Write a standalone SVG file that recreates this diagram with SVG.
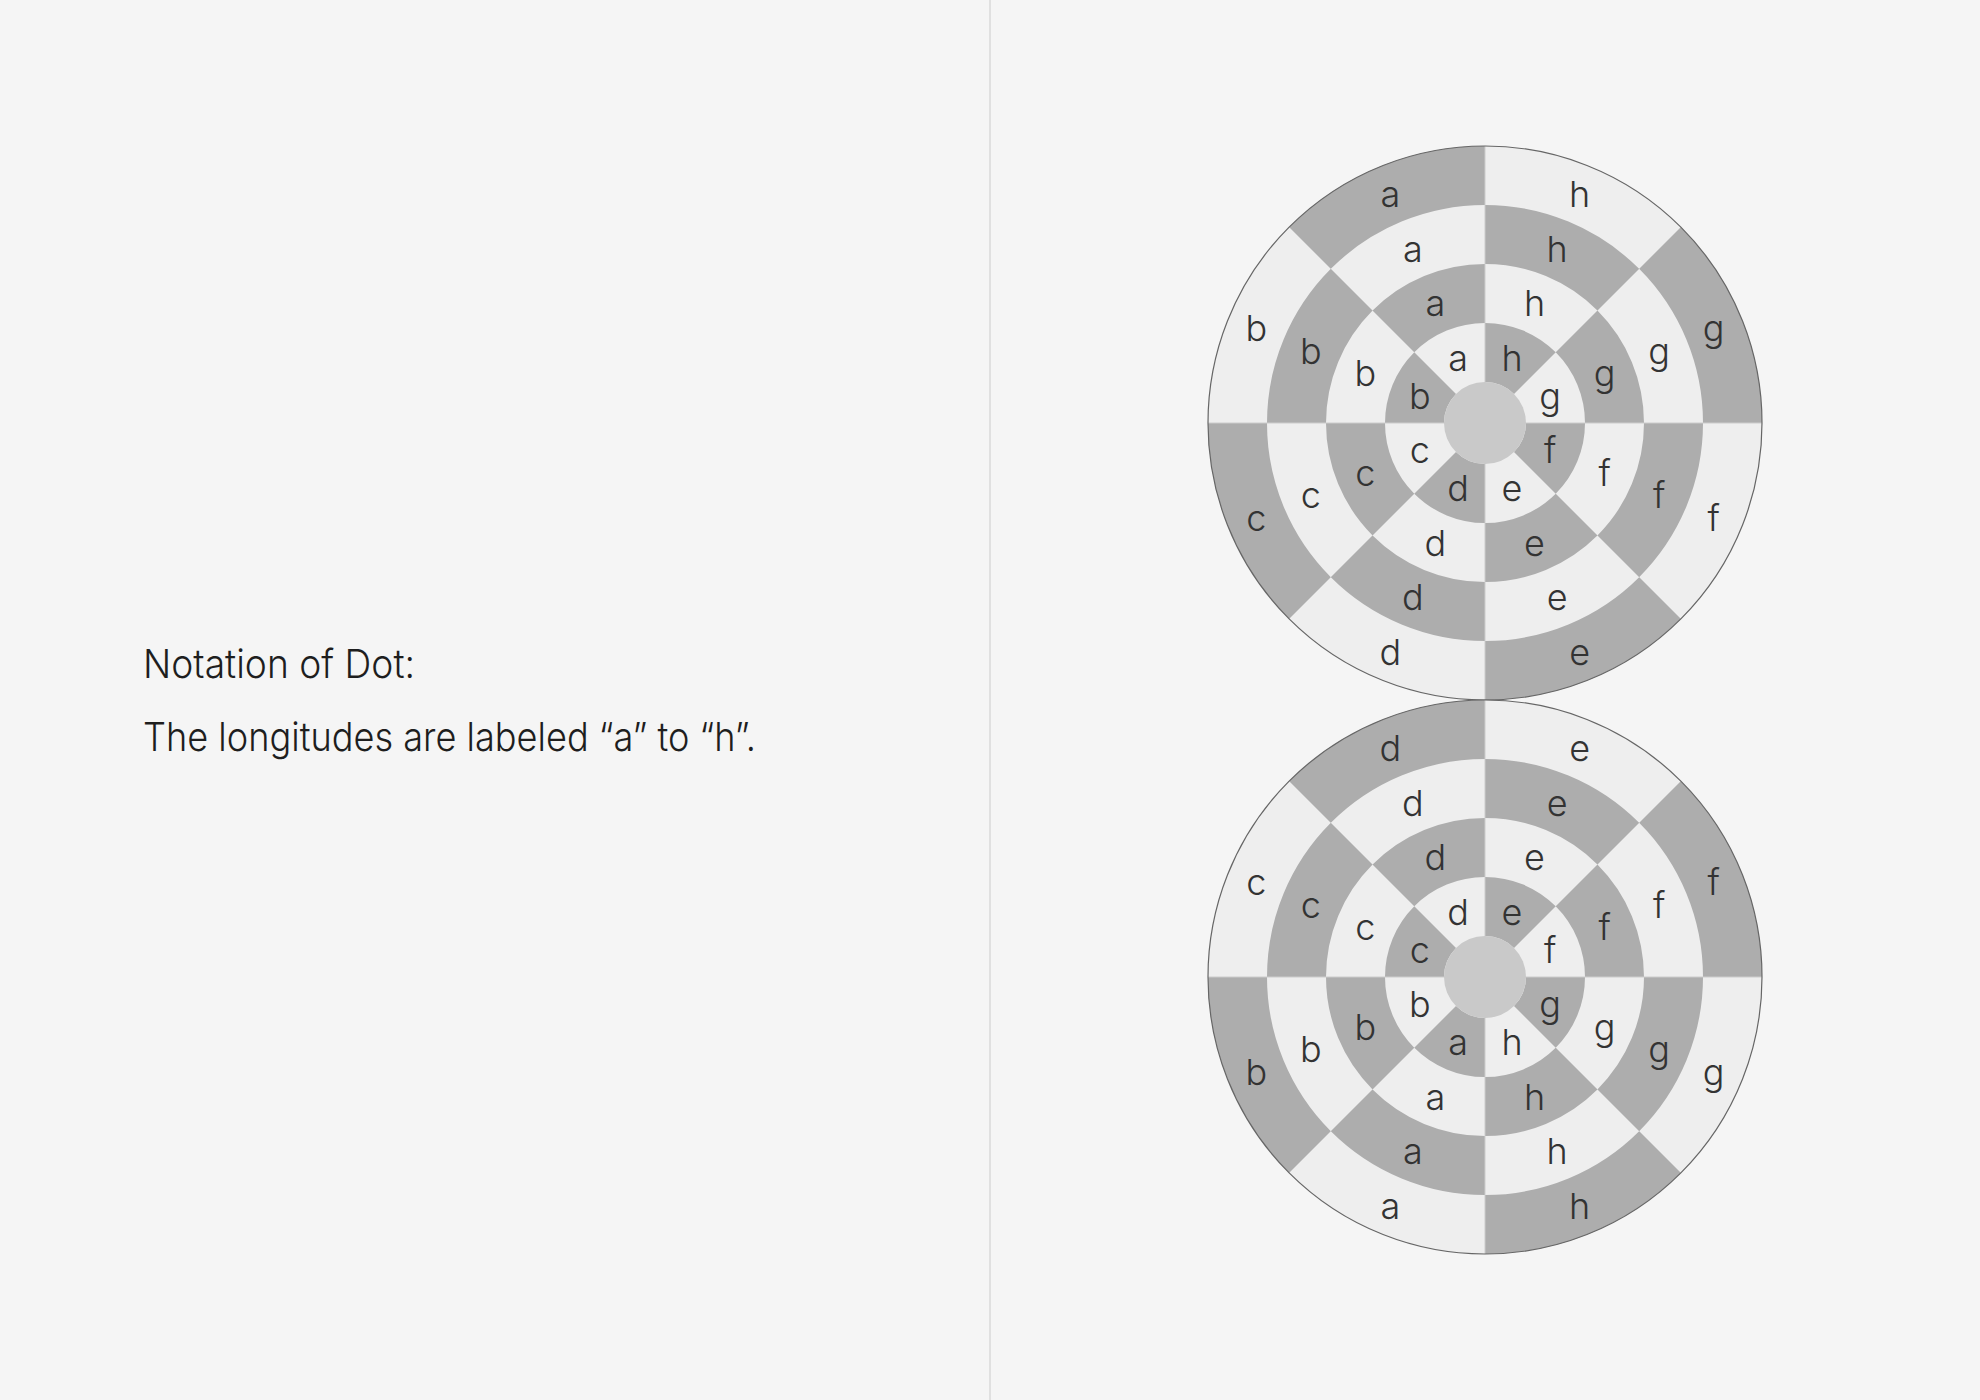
<svg xmlns="http://www.w3.org/2000/svg" xmlns:xlink="http://www.w3.org/1999/xlink" width="1980" height="1400" viewBox="0 0 1980 1400">
<style>
.bg{fill:#f5f5f5}
.div{stroke:#e0e0e0;stroke-width:2}
.base{fill:#eeeeee}
.dark{fill:#adadad}
.rad{stroke:#cccccc;stroke-width:1;fill:none}
.hub{fill:#c9c9c9}
.rim{fill:none;stroke:#666666;stroke-width:1.2}
.lbl{font-family:Inter,"Open Sans","Liberation Sans",sans-serif;font-weight:300;font-size:36px;fill:#333333;text-anchor:middle}
.txt{font-family:Inter,"Open Sans","Liberation Sans",sans-serif;font-weight:300;font-size:40px;fill:#1e1e1e}
</style>
<defs>
<g id="disc">
<circle class="base" r="277"/>
<path class="dark" d="M195.87,195.87A277,277 0 0 1 0,277L0,218A218,218 0 0 0 154.15,154.15Z M-195.87,195.87A277,277 0 0 1 -277,0L-218,0A218,218 0 0 0 -154.15,154.15Z M-195.87,-195.87A277,277 0 0 1 0,-277L0,-218A218,218 0 0 0 -154.15,-154.15Z M195.87,-195.87A277,277 0 0 1 277,0L218,0A218,218 0 0 0 154.15,-154.15Z"/>
<path class="dark" d="M218,0A218,218 0 0 1 154.15,154.15L112.43,112.43A159,159 0 0 0 159,0Z M0,218A218,218 0 0 1 -154.15,154.15L-112.43,112.43A159,159 0 0 0 0,159Z M-218,0A218,218 0 0 1 -154.15,-154.15L-112.43,-112.43A159,159 0 0 0 -159,0Z M0,-218A218,218 0 0 1 154.15,-154.15L112.43,-112.43A159,159 0 0 0 0,-159Z"/>
<path class="dark" d="M112.43,112.43A159,159 0 0 1 0,159L0,100A100,100 0 0 0 70.71,70.71Z M-112.43,112.43A159,159 0 0 1 -159,0L-100,0A100,100 0 0 0 -70.71,70.71Z M-112.43,-112.43A159,159 0 0 1 0,-159L0,-100A100,100 0 0 0 -70.71,-70.71Z M112.43,-112.43A159,159 0 0 1 159,0L100,0A100,100 0 0 0 70.71,-70.71Z"/>
<path class="dark" d="M100,0A100,100 0 0 1 70.71,70.71L28.99,28.99A41,41 0 0 0 41,0Z M0,100A100,100 0 0 1 -70.71,70.71L-28.99,28.99A41,41 0 0 0 0,41Z M-100,0A100,100 0 0 1 -70.71,-70.71L-28.99,-28.99A41,41 0 0 0 -41,0Z M0,-100A100,100 0 0 1 70.71,-70.71L28.99,-28.99A41,41 0 0 0 0,-41Z"/>
<path class="rad" d="M-277,0H277M0,-277V277M-195.87,-195.87L195.87,195.87M-195.87,195.87L195.87,-195.87"/>
<circle class="hub" r="41"/>
<circle class="rim" r="277"/>
</g>
</defs>
<rect class="bg" width="1980" height="1400"/>
<line class="div" x1="990" y1="0" x2="990" y2="1400"/>
<g id="caption">
<text class="txt" x="143" y="678" textLength="272" lengthAdjust="spacingAndGlyphs">Notation of Dot:</text>
<text class="txt" x="143" y="751" textLength="613" lengthAdjust="spacingAndGlyphs">The longitudes are labeled “a” to “h”.</text>
</g>
<g id="disc-top" transform="translate(1485,423)">
<use xlink:href="#disc" href="#disc"/>
<g class="labels" transform="translate(0,3)">
<text class="lbl" x="-26.98" y="-55.13">a</text>
<text class="lbl" x="-49.56" y="-109.64">a</text>
<text class="lbl" x="-72.14" y="-164.15">a</text>
<text class="lbl" x="-94.71" y="-218.66">a</text>
<text class="lbl" x="-65.13" y="-16.98">b</text>
<text class="lbl" x="-119.64" y="-39.56">b</text>
<text class="lbl" x="-174.15" y="-62.14">b</text>
<text class="lbl" x="-228.66" y="-84.71">b</text>
<text class="lbl" x="-65.13" y="36.98">c</text>
<text class="lbl" x="-119.64" y="59.56">c</text>
<text class="lbl" x="-174.15" y="82.14">c</text>
<text class="lbl" x="-228.66" y="104.71">c</text>
<text class="lbl" x="-26.98" y="75.13">d</text>
<text class="lbl" x="-49.56" y="129.64">d</text>
<text class="lbl" x="-72.14" y="184.15">d</text>
<text class="lbl" x="-94.71" y="238.66">d</text>
<text class="lbl" x="26.98" y="75.13">e</text>
<text class="lbl" x="49.56" y="129.64">e</text>
<text class="lbl" x="72.14" y="184.15">e</text>
<text class="lbl" x="94.71" y="238.66">e</text>
<text class="lbl" x="65.13" y="36.98">f</text>
<text class="lbl" x="119.64" y="59.56">f</text>
<text class="lbl" x="174.15" y="82.14">f</text>
<text class="lbl" x="228.66" y="104.71">f</text>
<text class="lbl" x="65.13" y="-16.98">g</text>
<text class="lbl" x="119.64" y="-39.56">g</text>
<text class="lbl" x="174.15" y="-62.14">g</text>
<text class="lbl" x="228.66" y="-84.71">g</text>
<text class="lbl" x="26.98" y="-55.13">h</text>
<text class="lbl" x="49.56" y="-109.64">h</text>
<text class="lbl" x="72.14" y="-164.15">h</text>
<text class="lbl" x="94.71" y="-218.66">h</text>
</g>
</g>
<g id="disc-bottom" transform="translate(1485,977)">
<use xlink:href="#disc" href="#disc"/>
<g class="labels" transform="translate(0,3)">
<text class="lbl" x="-26.98" y="-55.13">d</text>
<text class="lbl" x="-49.56" y="-109.64">d</text>
<text class="lbl" x="-72.14" y="-164.15">d</text>
<text class="lbl" x="-94.71" y="-218.66">d</text>
<text class="lbl" x="-65.13" y="-16.98">c</text>
<text class="lbl" x="-119.64" y="-39.56">c</text>
<text class="lbl" x="-174.15" y="-62.14">c</text>
<text class="lbl" x="-228.66" y="-84.71">c</text>
<text class="lbl" x="-65.13" y="36.98">b</text>
<text class="lbl" x="-119.64" y="59.56">b</text>
<text class="lbl" x="-174.15" y="82.14">b</text>
<text class="lbl" x="-228.66" y="104.71">b</text>
<text class="lbl" x="-26.98" y="75.13">a</text>
<text class="lbl" x="-49.56" y="129.64">a</text>
<text class="lbl" x="-72.14" y="184.15">a</text>
<text class="lbl" x="-94.71" y="238.66">a</text>
<text class="lbl" x="26.98" y="75.13">h</text>
<text class="lbl" x="49.56" y="129.64">h</text>
<text class="lbl" x="72.14" y="184.15">h</text>
<text class="lbl" x="94.71" y="238.66">h</text>
<text class="lbl" x="65.13" y="36.98">g</text>
<text class="lbl" x="119.64" y="59.56">g</text>
<text class="lbl" x="174.15" y="82.14">g</text>
<text class="lbl" x="228.66" y="104.71">g</text>
<text class="lbl" x="65.13" y="-16.98">f</text>
<text class="lbl" x="119.64" y="-39.56">f</text>
<text class="lbl" x="174.15" y="-62.14">f</text>
<text class="lbl" x="228.66" y="-84.71">f</text>
<text class="lbl" x="26.98" y="-55.13">e</text>
<text class="lbl" x="49.56" y="-109.64">e</text>
<text class="lbl" x="72.14" y="-164.15">e</text>
<text class="lbl" x="94.71" y="-218.66">e</text>
</g>
</g>
</svg>
